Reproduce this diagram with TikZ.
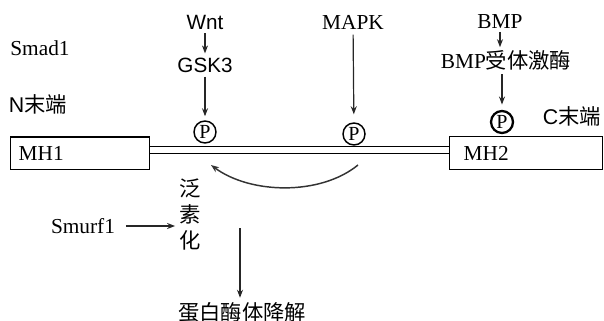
\documentclass[tikz,border=0pt]{standalone}
\usepackage{fontspec}
\setmainfont{Liberation Serif}
\newfontfamily\arialf{Liberation Sans}
\newfontfamily\cjk{Noto Sans CJK SC}
\usetikzlibrary{arrows.meta}
\begin{document}
\begin{tikzpicture}[x=0.75pt,y=-0.75pt,
  font=\fontsize{16}{19}\selectfont,
  txt/.style={inner sep=2pt},
  arr/.style={draw=black!85, line width=0.9pt, -{Stealth[length=6pt,width=4.5pt]}},
  box/.style={draw, line width=1pt, minimum height=24.5pt, inner ysep=0pt},
  pcirc/.style={draw, circle, line width=1.1pt, minimum size=16.5pt, inner sep=0pt, font=\fontsize{15}{15}\selectfont}
]
\useasboundingbox (0,0) rectangle (604,321);

% texts
\node[txt] (smad) at (40,48) {Smad1};
\node[txt] (nterm) at (38,104) {{\arialf N}{\cjk 末端}};
\node[txt] (cterm) at (572,116) {{\arialf C}{\cjk 末端}};
\node[txt,font=\arialf\fontsize{15.5}{18}\selectfont] (wnt) at (205,22) {Wnt};
\node[txt,font=\arialf\fontsize{15.5}{18}\selectfont] (gsk) at (205,65) {GSK3};
\node[txt] (mapk) at (353,22) {MAPK};
\node[txt] (bmp) at (500,22) {BMP};
\node[txt] (bmpk) at (506,60) {BMP{\cjk 受体激酶}};

% boxes
\node[box, minimum width=104.25pt, text width=92.25pt, inner xsep=6pt, align=left, anchor=west] (mh1) at (10,153.5) {MH1};
\node[box, minimum width=114.75pt, text width=93.75pt, inner xsep=10.5pt, align=left, anchor=west] (mh2) at (449,153) {MH2};

% double linker
\coordinate (la) at (mh1.east |- 0,150);
\coordinate (lb) at (mh2.west |- 0,150);
\draw[line width=1pt, double distance=4pt] (la) -- (lb);

% phosphates
\node[pcirc] (p1) at (205,132) {P};
\node[pcirc] (p2) at (354,134) {P};
\node[pcirc, line width=1.7pt] (p3) at (502,122) {P};

% arrows
\draw[arr, shorten <=1pt, shorten >=1pt] (wnt) -- (gsk);
\draw[arr, shorten <=1pt, shorten >=3pt] (gsk) -- (p1);
\draw[arr, shorten <=2pt, shorten >=6pt] (mapk) -- (p2);
\draw[arr] (bmp.south) -- (bmp.south |- bmpk.north);
\draw[arr, shorten <=1pt, shorten >=4pt] (p3 |- bmpk.south) -- (p3);

% curved arrow
\coordinate (ca1) at (358,165);
\coordinate (ca2) at (211,165);
\draw[arr, draw=black!80, line width=1.1pt] (ca1) .. controls (320,196) and (250,194) .. (ca2);

% ubiquitination
\node[txt, align=center, font=\cjk\fontsize{16}{19.5}\selectfont] (ub) at (190,215) {泛\\素\\化};
\node[txt] (smurf) at (83,226) {Smurf1};
\draw[arr, shorten <=6pt, shorten >=1pt] (smurf.east) -- (smurf.east -| ub.west);

% degradation
\node[txt, font=\cjk\fontsize{16}{19}\selectfont] (deg) at (242,312) {蛋白酶体降解};
\coordinate (dtop) at (240,228);
\draw[arr, shorten >=1pt] (dtop) -- (dtop |- deg.north);
\end{tikzpicture}
\end{document}
